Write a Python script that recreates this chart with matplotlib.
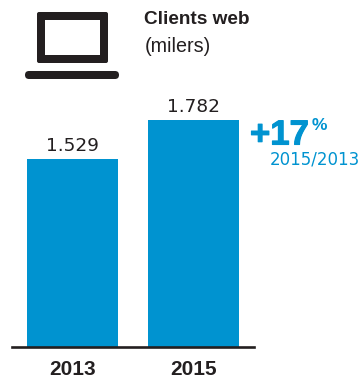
import matplotlib
matplotlib.use("Agg")
import matplotlib.pyplot as plt
from matplotlib.patches import FancyBboxPatch, Rectangle
import matplotlib.patheffects as pe

years = ["2013", "2015"]
clients = [1529, 1782]
value_labels = ["1.529", "1.782"]

BLUE = "#0093d0"
DARK = "#231f20"
W, H = 362, 381

plt.rcParams["font.family"] = ["Liberation Sans", "DejaVu Sans"]

fig = plt.figure(figsize=(W / 100, H / 100), dpi=100, facecolor="white")

# bars: axis starts above zero, as in the printed graphic
ax = fig.add_axes([12 / W, 1 - 346.5 / H, 242 / W, 300 / H])
ax.bar(range(len(years)), clients, width=0.752, color=BLUE)
ax.set_xlim(-0.5, 1.5)
ax.set_ylim(316, 316 + 300 / 0.1542)
ax.set_yticks([])
ax.set_xticks(range(len(years)))
ax.set_xticklabels(years, fontsize=15, fontweight="bold", color=DARK)
ax.tick_params(axis="x", length=0, pad=10)
for s in ["top", "left", "right"]:
    ax.spines[s].set_visible(False)
ax.spines["bottom"].set_linewidth(1.9)
ax.spines["bottom"].set_color(DARK)
ax.patch.set_alpha(0)

for i, v in enumerate(clients):
    ax.annotate(value_labels[i], (i, v), xytext=(0, 3), textcoords="offset points",
                ha="center", va="bottom", fontsize=13.3, color=DARK, family="DejaVu Sans")

# overlay in pixel coordinates for the icon and header
ov = fig.add_axes([0, 0, 1, 1])
ov.set_xlim(0, W)
ov.set_ylim(H, 0)
ov.axis("off")
ov.patch.set_alpha(0)

# laptop icon
ov.add_patch(FancyBboxPatch((37, 12), 71, 51, boxstyle="round,pad=0,rounding_size=2",
                            fc=DARK, ec="none"))
ov.add_patch(Rectangle((45, 20), 55, 35, fc="white", ec="none"))
ov.add_patch(FancyBboxPatch((25, 71), 94, 8, boxstyle="round,pad=0,rounding_size=4",
                            fc=DARK, ec="none"))

ov.text(144.5, 20, "Clients web", fontsize=13.7, fontweight="bold", color=DARK, va="center")
ov.text(144.5, 46, "(milers)", fontsize=14.2, color=DARK, va="center")

# growth callout
thick = [pe.withStroke(linewidth=0.8, foreground=BLUE)]
ov.text(250, 135, "+17", fontsize=25, fontweight="bold", color=BLUE, va="center", path_effects=thick)
ov.text(312, 125.5, "%", fontsize=12.5, fontweight="bold", color=BLUE, va="center")
ov.text(269.5, 160, "2015/2013", fontsize=12, color=BLUE, va="center", family="DejaVu Sans")

fig.savefig("out.png", dpi=100)
